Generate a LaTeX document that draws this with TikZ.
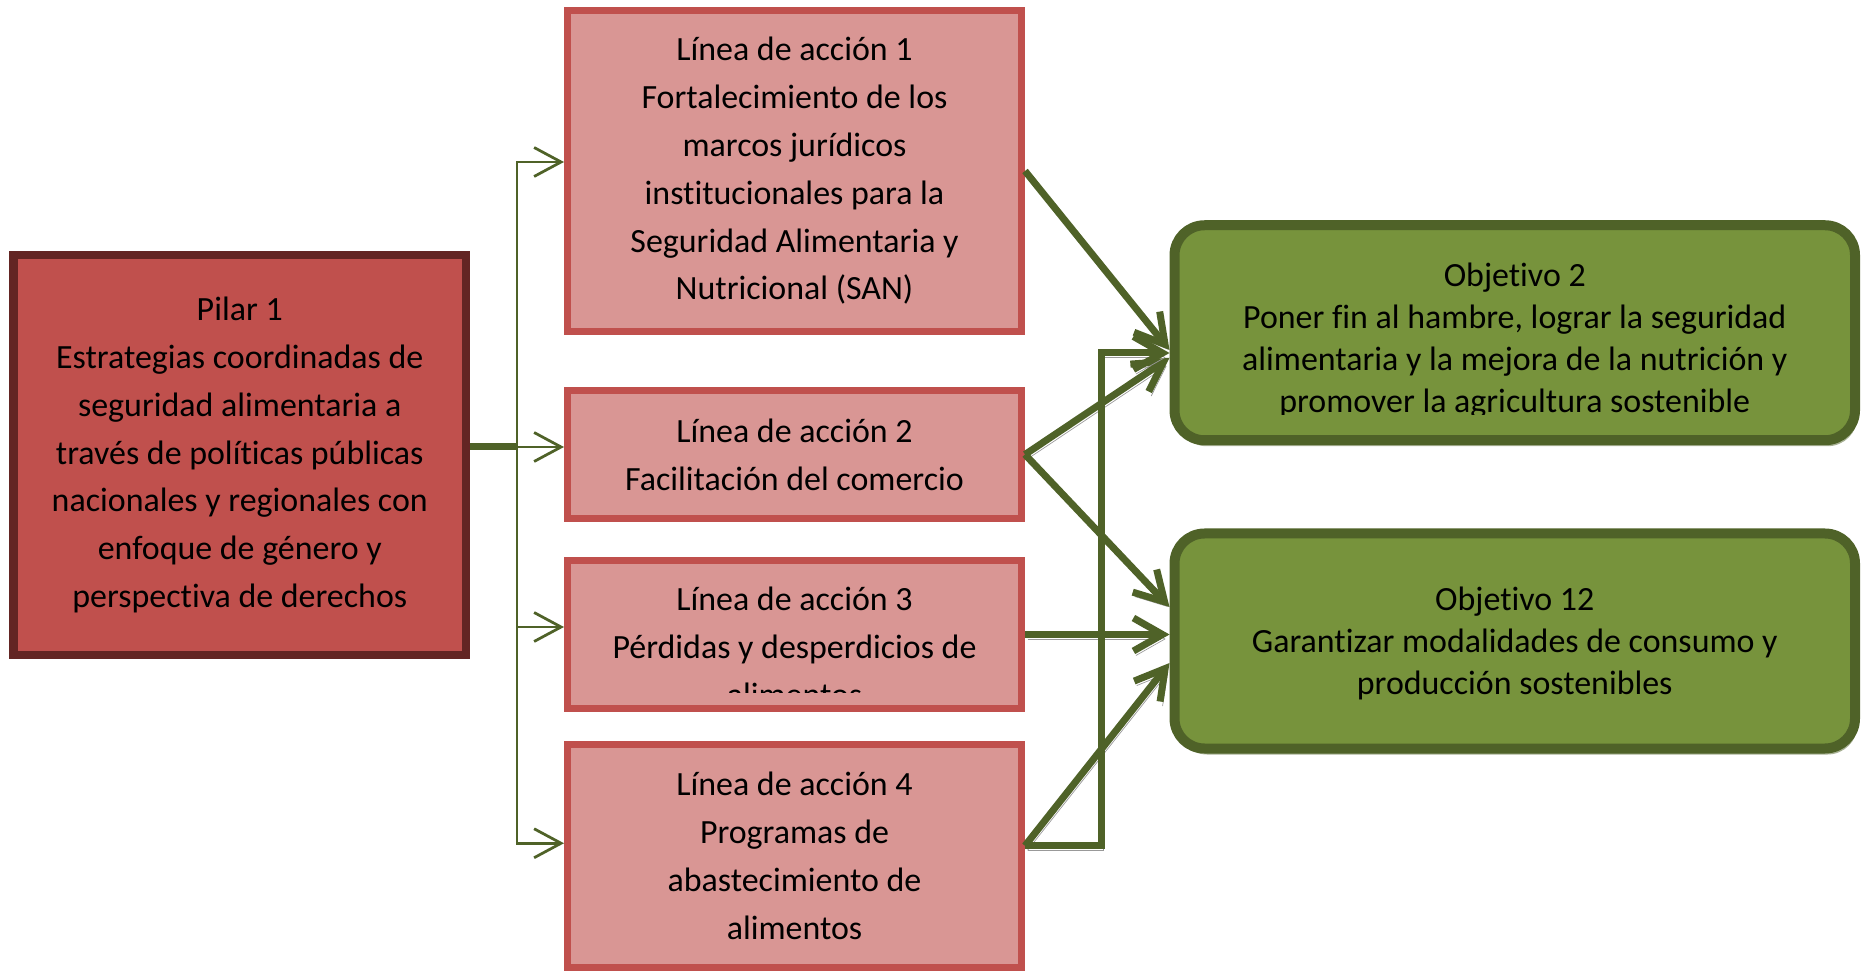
\documentclass[tikz,border=0pt]{standalone}
\usepackage{fontspec}
\setmainfont{Carlito}[Ligatures=NoCommon]
\usepackage{tikz}
\usetikzlibrary{arrows.meta, shadows}
\definecolor{pilarred}{RGB}{192,80,77}
\definecolor{pilardark}{RGB}{99,37,35}
\definecolor{lightred}{RGB}{217,150,148}
\definecolor{leafgreen}{RGB}{119,147,60}
\definecolor{darkgreen}{RGB}{79,98,40}
\tikzstyle{pillar} = [rectangle, minimum width=9.05cm, minimum height=8cm, text centered, align=center, line width=0.16cm, draw=pilardark, fill=pilarred, font=\fontsize{19.3}{27.2}\selectfont]
\tikzstyle{action} = [rectangle, minimum width=9.08cm, text centered, align=center, line width=0.14cm, draw=pilarred, fill=lightred, font=\fontsize{19.3}{27.2}\selectfont]
\tikzstyle{actiontext} = [align=center, font=\fontsize{19.3}{27.2}\selectfont]
\tikzstyle{goal} = [rectangle, rounded corners=0.6cm, minimum width=13.61cm, minimum height=4.3cm, text centered, align=center, line width=0.2cm, draw=darkgreen, fill=leafgreen, drop shadow={shadow xshift=0.05cm, shadow yshift=-0.12cm, fill=darkgreen, opacity=0.5}, font=\fontsize{19.3}{23.8}\selectfont]
\tikzstyle{goaltext} = [align=center, font=\fontsize{19.3}{23.8}\selectfont]
\tikzstyle{branch} = [line width=0.055cm, draw=darkgreen, -{Straight Barb[length=0.54cm, width=0.58cm]}]
\tikzstyle{link} = [line width=0.14cm, draw=darkgreen, -{Straight Barb[length=0.58cm, width=0.66cm]}, preaction={draw=black!40, transform canvas={shift={(0.05,-0.09)}}}]

\begin{document}
\begin{tikzpicture}
			\useasboundingbox (0,0) rectangle (37.24,-19.44);

			\node (pilar) [pillar] at (4.795,-9.1) {Pilar 1\\Estrategias coordinadas de\\seguridad alimentaria a\\través de políticas públicas\\nacionales y regionales con\\enfoque de género y\\perspectiva de derechos};

			\node (l1) [action, minimum height=6.42cm] at (15.89,-3.42) {Línea de acción 1\\Fortalecimiento de los\\marcos jurídicos\\institucionales para la\\Seguridad Alimentaria y\\Nutricional (SAN)};
			\node (l2) [action, minimum height=2.56cm, node distance=5.67cm, below of=l1] {Línea de acción 2\\Facilitación del comercio};
			\node (l3) [action, minimum height=2.96cm, node distance=3.6cm, below of=l2] {};
			\begin{scope}
				\clip (l3.north west) rectangle ([yshift=0.4cm]l3.south east);
				\node (l3text) [actiontext] at ([yshift=-0.25cm]l3.center) {Línea de acción 3\\Pérdidas y desperdicios de\\alimentos};
			\end{scope}
			\node (l4) [action, minimum height=4.45cm, node distance=4.425cm, below of=l3] {Línea de acción 4\\Programas de\\abastecimiento de\\alimentos};

			\node (obj2) [goal] at (30.295,-6.655) {};
			\begin{scope}
				\clip (obj2.north west) rectangle ([yshift=0.62cm]obj2.south east);
				\node (obj2text) [goaltext] at ([yshift=-0.16cm]obj2.center) {Objetivo 2\\Poner fin al hambre, lograr la seguridad\\alimentaria y la mejora de la nutrición y\\promover la agricultura sostenible};
			\end{scope}
			\node (obj12) [goal, node distance=6.165cm, below of=obj2, text depth=-0.1cm] {Objetivo 12\\Garantizar modalidades de consumo y\\producción sostenibles};

			\coordinate (split) at (10.34,-8.94);
			\draw [line width=0.14cm, darkgreen] (pilar.east |- split) -- (split);
			\draw [branch] (split) |- ([yshift=0.18cm]l1.west);
			\draw [branch] (split) |- ([yshift=0.15cm]l2.west);
			\draw [branch] (split) |- ([yshift=0.15cm]l3.west);
			\draw [branch] (split) |- ([yshift=0.25cm]l4.west);

			\draw [link] (l1.east) -- ([yshift=-0.345cm]obj2.west);
			\draw [link] (l2.east) -- ([yshift=-0.5cm]obj2.west);
			\draw [link] (l2.east) -- ([yshift=0.68cm]obj12.west);
			\draw [link] (l3.east) -- (l3.east -| obj12.west);
			\draw [link] ([yshift=0.2cm]l4.east) -- ([yshift=-0.44cm]obj12.west);
			\draw [link] ([yshift=0.2cm]l4.east) -- ++(1.52,0) |- ([yshift=-0.405cm]obj2.west);

			\end{tikzpicture}
\end{document}
